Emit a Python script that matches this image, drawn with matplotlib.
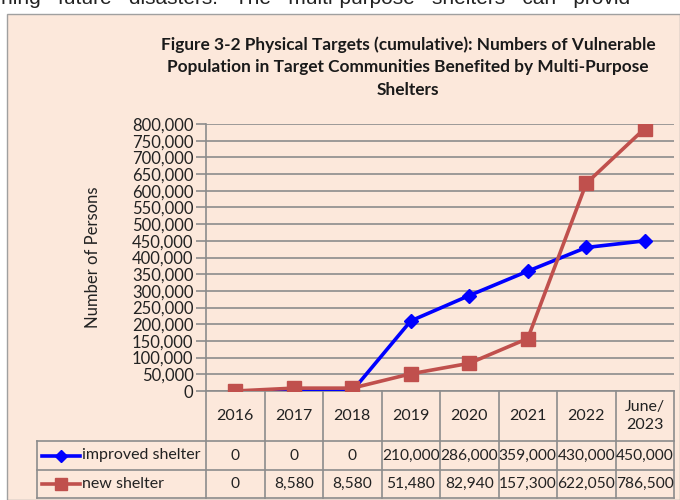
import matplotlib
matplotlib.use("Agg")
import matplotlib.pyplot as plt
from matplotlib.patches import Rectangle
from matplotlib.lines import Line2D
from matplotlib.transforms import blended_transform_factory
from matplotlib.ticker import FuncFormatter

# data
categories = ["2016", "2017", "2018", "2019", "2020", "2021", "2022", "June/\n2023"]
improved = [0, 0, 0, 210000, 286000, 359000, 430000, 450000]
new_shelter = [0, 8580, 8580, 51480, 82940, 157300, 622050, 786500]
series_names = ["improved shelter", "new shelter"]

W, H = 680, 500
bg = "#fce8db"
gridc = "#8c8c8c"
blue = "#0000ff"
red = "#c0504d"
font = "Lato"

def fx(x):
    return x / W

def fy(y):
    return 1 - y / H

fig = plt.figure(figsize=(6.8, 5), dpi=100, facecolor="white")

# page text cut off at the top of the crop
fig.text(fx(1), fy(4), "ning   future   disasters.   The   multi-purpose   shelters   can   provid",
         fontsize=15, family="Liberation Sans", color="#222222", va="baseline", ha="left")

# chart frame
fig.patches.append(Rectangle((fx(7), 0), 1 - fx(7), fy(14), transform=fig.transFigure,
                             facecolor=bg, edgecolor="#a0a0a0", lw=1.0, zorder=-5))

fig.text(fx(408), fy(67),
         "Figure 3-2 Physical Targets (cumulative): Numbers of Vulnerable\n"
         "Population in Target Communities Benefited by Multi-Purpose\nShelters",
         ha="center", va="center", fontsize=12.4, fontweight="bold", family=font,
         linespacing=1.5, color="#1a1a1a")

ax = fig.add_axes([fx(206), fy(391), fx(674) - fx(206), fy(124) - fy(391)])
ax.set_facecolor("none")
x = list(range(len(categories)))
ax.plot(x, improved, color=blue, lw=2.6, marker="D", ms=7.5, zorder=3)
ax.plot(x, new_shelter, color=red, lw=2.6, marker="s", ms=10, zorder=4)

ax.set_xlim(-0.5, len(categories) - 0.5)
ax.set_ylim(0, 800000)
ax.set_yticks(range(0, 800001, 50000))
ax.yaxis.set_major_formatter(FuncFormatter(lambda v, p: f"{int(v):,}"))
ax.grid(axis="y", color=gridc, lw=1.2)
ax.set_axisbelow(True)
ax.set_xticks([])
for s in ["top", "right"]:
    ax.spines[s].set_visible(False)
for s in ["left", "bottom"]:
    ax.spines[s].set_color(gridc)
    ax.spines[s].set_linewidth(1.2)
ax.tick_params(axis="y", length=7, width=1.2, color=gridc, labelsize=12,
               labelcolor="#222222", pad=2)
for t in ax.get_yticklabels():
    t.set_family(font)
ax.set_ylabel("Number of Persons", fontsize=12, family=font, color="#222222", labelpad=22)

# data table under the axis
tr = blended_transform_factory(ax.transData, fig.transFigure)
lk = dict(color=gridc, lw=1.2, clip_on=False)
n = len(categories)
for i in range(n + 1):
    ax.add_line(Line2D([i - 0.5, i - 0.5], [fy(391), fy(498)], transform=tr, **lk))
for yy in [441, 470, 498]:
    fig.add_artist(Line2D([fx(37), fx(674)], [fy(yy), fy(yy)], **lk))
fig.add_artist(Line2D([fx(37), fx(37)], [fy(441), fy(498)], **lk))

for i, c in enumerate(categories):
    ax.text(i, fy(416), c, transform=tr, ha="center", va="center", fontsize=11.5,
            family=font, color="#222222", linespacing=1.3)
row_y = [455.5, 484]
for vals, yy in zip([improved, new_shelter], row_y):
    for i, v in enumerate(vals):
        ax.text(i, fy(yy), f"{v:,}", transform=tr, ha="center", va="center",
                fontsize=11.2, family=font, color="#222222")

keys = [(blue, "D", 6), (red, "s", 9)]
for (col, mk, ms), name, yy in zip(keys, series_names, row_y):
    fig.add_artist(Line2D([fx(42), fx(80)], [fy(yy), fy(yy)], color=col, lw=2.6))
    fig.add_artist(Line2D([fx(61)], [fy(yy)], color=col, marker=mk, ms=ms, lw=0))
    fig.text(fx(82), fy(yy), name, ha="left", va="center", fontsize=11.5,
             family=font, color="#222222")

fig.savefig("out.png", dpi=100, facecolor="white")
